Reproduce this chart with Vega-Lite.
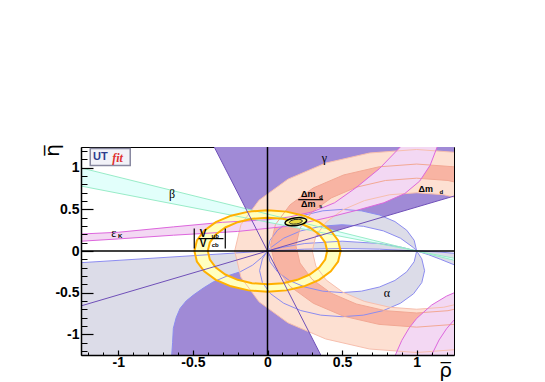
{
"$schema":"https://vega.github.io/schema/vega-lite/v6.json",
"width":373,"height":208,
"autosize":"none",
"padding":{"left":81,"top":147,"right":91,"bottom":27},
"background":"white",
"config":{"view":{"stroke":"black","strokeWidth":1}},
"datasets":{
"gamma":[{"g":1,"i":0,"x":0,"y":0},{"g":1,"i":1,"x":-0.357,"y":1.25},{"g":1,"i":2,"x":1.25,"y":1.25},{"g":1,"i":3,"x":1.25,"y":0.66},
{"g":2,"i":0,"x":0,"y":0},{"g":2,"i":1,"x":-1.25,"y":-0.66},{"g":2,"i":2,"x":-1.25,"y":-1.25},{"g":2,"i":3,"x":0.357,"y":-1.25}],
"gammaLines":[{"g":1,"i":0,"x":-0.357,"y":1.25},{"g":1,"i":1,"x":0.357,"y":-1.25},{"g":2,"i":0,"x":-1.25,"y":-0.66},{"g":2,"i":1,"x":1.25,"y":0.66}],
"alphaF1":[{"i":0,"x":0,"y":0},{"i":1,"x":-1.3,"y":-0.146},{"i":2,"x":-1.3,"y":-1.3},{"i":3,"x":-0.645,"y":-1.3},{"i":4,"x":-0.642,"y":-1.25},{"i":5,"x":-0.636,"y":-1.1},{"i":6,"x":-0.631,"y":-0.93},{"i":7,"x":-0.612,"y":-0.8},{"i":8,"x":-0.586,"y":-0.69},{"i":9,"x":-0.545,"y":-0.6},{"i":10,"x":-0.497,"y":-0.53},{"i":11,"x":-0.43,"y":-0.445},{"i":12,"x":-0.362,"y":-0.37},{"i":13,"x":-0.27,"y":-0.3},{"i":14,"x":-0.183,"y":-0.25},{"i":15,"x":-0.1,"y":-0.17},{"i":16,"x":-0.04,"y":-0.08},{"i":17,"x":0,"y":0}],
"alphaF23":[{"g":2,"i":0,"x":0,"y":0},{"g":2,"i":1,"x":-0.034,"y":-0.094},{"g":2,"i":2,"x":-0.053,"y":-0.237},{"g":2,"i":3,"x":-0.034,"y":-0.38},{"g":2,"i":4,"x":0.021,"y":-0.514},{"g":2,"i":5,"x":0.109,"y":-0.628},{"g":2,"i":6,"x":0.2235,"y":-0.716},{"g":2,"i":7,"x":0.357,"y":-0.771},{"g":2,"i":8,"x":0.5,"y":-0.79},{"g":2,"i":9,"x":0.643,"y":-0.771},{"g":2,"i":10,"x":0.7765,"y":-0.716},{"g":2,"i":11,"x":0.891,"y":-0.628},{"g":2,"i":12,"x":0.979,"y":-0.514},{"g":2,"i":13,"x":1.034,"y":-0.38},{"g":2,"i":14,"x":1.053,"y":-0.237},{"g":2,"i":15,"x":1.034,"y":-0.094},{"g":2,"i":16,"x":1,"y":0},{"g":2,"i":17,"x":0.983,"y":-0.129},{"g":2,"i":18,"x":0.933,"y":-0.25},{"g":2,"i":19,"x":0.854,"y":-0.354},{"g":2,"i":20,"x":0.75,"y":-0.433},{"g":2,"i":21,"x":0.629,"y":-0.483},{"g":2,"i":22,"x":0.5,"y":-0.5},{"g":2,"i":23,"x":0.371,"y":-0.483},{"g":2,"i":24,"x":0.25,"y":-0.433},{"g":2,"i":25,"x":0.146,"y":-0.354},{"g":2,"i":26,"x":0.067,"y":-0.25},{"g":2,"i":27,"x":0.017,"y":-0.129},{"g":2,"i":28,"x":0,"y":0},
{"g":3,"i":0,"x":0,"y":0},{"g":3,"i":1,"x":0.017,"y":0.129},{"g":3,"i":2,"x":0.067,"y":0.25},{"g":3,"i":3,"x":0.146,"y":0.354},{"g":3,"i":4,"x":0.25,"y":0.433},{"g":3,"i":5,"x":0.371,"y":0.483},{"g":3,"i":6,"x":0.5,"y":0.5},{"g":3,"i":7,"x":0.629,"y":0.483},{"g":3,"i":8,"x":0.75,"y":0.433},{"g":3,"i":9,"x":0.854,"y":0.354},{"g":3,"i":10,"x":0.933,"y":0.25},{"g":3,"i":11,"x":0.983,"y":0.129},{"g":3,"i":12,"x":1,"y":0},{"g":3,"i":13,"x":0.979,"y":0.0395},{"g":3,"i":14,"x":0.891,"y":0.154},{"g":3,"i":15,"x":0.7765,"y":0.242},{"g":3,"i":16,"x":0.643,"y":0.297},{"g":3,"i":17,"x":0.5,"y":0.316},{"g":3,"i":18,"x":0.357,"y":0.297},{"g":3,"i":19,"x":0.2235,"y":0.242},{"g":3,"i":20,"x":0.109,"y":0.154},{"g":3,"i":21,"x":0.021,"y":0.0395},{"g":3,"i":22,"x":0,"y":0},
{"g":4,"i":0,"x":1,"y":0},{"g":4,"i":1,"x":1.08,"y":-0.045},{"g":4,"i":2,"x":1.16,"y":-0.1},{"g":4,"i":3,"x":1.25,"y":-0.165},{"g":4,"i":4,"x":1.3,"y":-0.2},{"g":4,"i":5,"x":1.3,"y":-0.035},{"g":4,"i":6,"x":1.15,"y":-0.012},{"g":4,"i":7,"x":1,"y":0},
{"g":5,"i":0,"x":0,"y":0},{"g":5,"i":1,"x":0.1,"y":0.044},{"g":5,"i":2,"x":0.25,"y":0.09},{"g":5,"i":3,"x":0.5,"y":0.118},{"g":5,"i":4,"x":0.75,"y":0.09},{"g":5,"i":5,"x":0.9,"y":0.044},{"g":5,"i":6,"x":1,"y":0},{"g":5,"i":7,"x":0.75,"y":0.022},{"g":5,"i":8,"x":0.5,"y":0.03},{"g":5,"i":9,"x":0.25,"y":0.022},{"g":5,"i":10,"x":0,"y":0}],
"peach":[{"i":0,"x":1.863,"y":0.863},{"i":1,"x":1.61,"y":1.057},{"i":2,"x":1.316,"y":1.178},{"i":3,"x":1.0,"y":1.22},{"i":4,"x":0.684,"y":1.178},{"i":5,"x":0.39,"y":1.057},{"i":6,"x":0.137,"y":0.863},{"i":7,"x":-0.057,"y":0.61},{"i":8,"x":-0.178,"y":0.316},{"i":9,"x":-0.22,"y":0},{"i":10,"x":-0.178,"y":-0.316},{"i":11,"x":-0.057,"y":-0.61},{"i":12,"x":0.137,"y":-0.863},{"i":13,"x":0.39,"y":-1.057},{"i":14,"x":0.684,"y":-1.178},{"i":15,"x":1.0,"y":-1.22},{"i":16,"x":1.316,"y":-1.178},{"i":17,"x":1.61,"y":-1.057},{"i":18,"x":1.863,"y":-0.863},{"i":19,"x":1.495,"y":-0.495},{"i":20,"x":1.35,"y":-0.606},{"i":21,"x":1.181,"y":-0.676},{"i":22,"x":1.0,"y":-0.7},{"i":23,"x":0.819,"y":-0.676},{"i":24,"x":0.65,"y":-0.606},{"i":25,"x":0.505,"y":-0.495},{"i":26,"x":0.394,"y":-0.35},{"i":27,"x":0.324,"y":-0.181},{"i":28,"x":0.3,"y":0},{"i":29,"x":0.324,"y":0.181},{"i":30,"x":0.394,"y":0.35},{"i":31,"x":0.505,"y":0.495},{"i":32,"x":0.65,"y":0.606},{"i":33,"x":0.819,"y":0.676},{"i":34,"x":1.0,"y":0.7},{"i":35,"x":1.181,"y":0.676},{"i":36,"x":1.35,"y":0.606},{"i":37,"x":1.495,"y":0.495}],
"salmon":[{"i":0,"x":1.693,"y":0.758},{"i":1,"x":1.49,"y":0.9137},{"i":2,"x":1.2536,"y":1.0116},{"i":3,"x":1.0,"y":1.045},{"i":4,"x":0.7464,"y":1.0116},{"i":5,"x":0.51,"y":0.9137},{"i":6,"x":0.307,"y":0.758},{"i":7,"x":0.1513,"y":0.555},{"i":8,"x":0.0534,"y":0.3186},{"i":9,"x":0.02,"y":0.065},{"i":10,"x":0.0534,"y":-0.1886},{"i":11,"x":0.1513,"y":-0.425},{"i":12,"x":0.307,"y":-0.628},{"i":13,"x":0.51,"y":-0.7837},{"i":14,"x":0.7464,"y":-0.8816},{"i":15,"x":1.0,"y":-0.915},{"i":16,"x":1.2536,"y":-0.8816},{"i":17,"x":1.49,"y":-0.7837},{"i":18,"x":1.693,"y":-0.628},{"i":19,"x":1.5728,"y":-0.5078},{"i":20,"x":1.405,"y":-0.6365},{"i":21,"x":1.2096,"y":-0.7174},{"i":22,"x":1.0,"y":-0.745},{"i":23,"x":0.7904,"y":-0.7174},{"i":24,"x":0.595,"y":-0.6365},{"i":25,"x":0.4272,"y":-0.5078},{"i":26,"x":0.2985,"y":-0.34},{"i":27,"x":0.2176,"y":-0.1446},{"i":28,"x":0.19,"y":0.065},{"i":29,"x":0.2176,"y":0.2746},{"i":30,"x":0.2985,"y":0.47},{"i":31,"x":0.4272,"y":0.6378},{"i":32,"x":0.595,"y":0.7665},{"i":33,"x":0.7904,"y":0.8474},{"i":34,"x":1.0,"y":0.875},{"i":35,"x":1.2096,"y":0.8474},{"i":36,"x":1.405,"y":0.7665},{"i":37,"x":1.5728,"y":0.6378}],
"pinkU":[{"i":0,"x":-1.3,"y":0.2},{"i":1,"x":-1.0,"y":0.225},{"i":2,"x":-0.63,"y":0.29},{"i":3,"x":-0.3,"y":0.345},{"i":4,"x":0.0,"y":0.375},{"i":5,"x":0.15,"y":0.41},{"i":6,"x":0.3,"y":0.47},{"i":7,"x":0.45,"y":0.58},{"i":8,"x":0.6,"y":0.77},{"i":9,"x":0.75,"y":0.99},{"i":10,"x":0.89,"y":1.25},{"i":11,"x":0.92,"y":1.32},{"i":12,"x":1.16,"y":1.32},{"i":13,"x":1.137,"y":1.25},{"i":14,"x":1.09,"y":1.03},{"i":15,"x":1.02,"y":0.84},{"i":16,"x":0.92,"y":0.69},{"i":17,"x":0.78,"y":0.58},{"i":18,"x":0.6,"y":0.49},{"i":19,"x":0.4,"y":0.4},{"i":20,"x":0.15,"y":0.3},{"i":21,"x":-0.2,"y":0.235},{"i":22,"x":-0.63,"y":0.19},{"i":23,"x":-1.0,"y":0.145},{"i":24,"x":-1.3,"y":0.112}],
"pinkL":[{"i":0,"x":0.845,"y":-1.3},{"i":1,"x":0.857,"y":-1.25},{"i":2,"x":0.9,"y":-1.075},{"i":3,"x":0.95,"y":-0.924},{"i":4,"x":1.0,"y":-0.81},{"i":5,"x":1.1,"y":-0.65},{"i":6,"x":1.2,"y":-0.542},{"i":7,"x":1.3,"y":-0.465},{"i":8,"x":1.3,"y":-1.3}],
"pinkL2":[{"i":0,"x":1.09,"y":-1.3},{"i":1,"x":1.1,"y":-1.25},{"i":2,"x":1.15,"y":-1.069},{"i":3,"x":1.2,"y":-0.934},{"i":4,"x":1.25,"y":-0.83},{"i":5,"x":1.3,"y":-0.746}],
"beta":[{"i":0,"x":-1.3,"y":1.021},{"i":1,"x":1.3,"y":-0.133},{"i":2,"x":1.3,"y":-0.104},{"i":3,"x":-1.3,"y":0.798}],
"ring":[{"i":0,"x":0.49,"y":0},{"i":1,"x":0.4733,"y":0.1268},{"i":2,"x":0.4243,"y":0.245},{"i":3,"x":0.3465,"y":0.3465},{"i":4,"x":0.245,"y":0.4243},{"i":5,"x":0.1268,"y":0.4733},{"i":6,"x":0,"y":0.49},{"i":7,"x":-0.1268,"y":0.4733},{"i":8,"x":-0.245,"y":0.4243},{"i":9,"x":-0.3465,"y":0.3465},{"i":10,"x":-0.4243,"y":0.245},{"i":11,"x":-0.4733,"y":0.1268},{"i":12,"x":-0.49,"y":0},{"i":13,"x":-0.4733,"y":-0.1268},{"i":14,"x":-0.4243,"y":-0.245},{"i":15,"x":-0.3465,"y":-0.3465},{"i":16,"x":-0.245,"y":-0.4243},{"i":17,"x":-0.1268,"y":-0.4733},{"i":18,"x":0,"y":-0.49},{"i":19,"x":0.1268,"y":-0.4733},{"i":20,"x":0.245,"y":-0.4243},{"i":21,"x":0.3465,"y":-0.3465},{"i":22,"x":0.4243,"y":-0.245},{"i":23,"x":0.4733,"y":-0.1268},{"i":24,"x":0.49,"y":0},
{"i":25,"x":0.4,"y":0},{"i":26,"x":0.3864,"y":-0.1035},{"i":27,"x":0.3464,"y":-0.2},{"i":28,"x":0.2828,"y":-0.2828},{"i":29,"x":0.2,"y":-0.3464},{"i":30,"x":0.1035,"y":-0.3864},{"i":31,"x":0,"y":-0.4},{"i":32,"x":-0.1035,"y":-0.3864},{"i":33,"x":-0.2,"y":-0.3464},{"i":34,"x":-0.2828,"y":-0.2828},{"i":35,"x":-0.3464,"y":-0.2},{"i":36,"x":-0.3864,"y":-0.1035},{"i":37,"x":-0.4,"y":0},{"i":38,"x":-0.3864,"y":0.1035},{"i":39,"x":-0.3464,"y":0.2},{"i":40,"x":-0.2828,"y":0.2828},{"i":41,"x":-0.2,"y":0.3464},{"i":42,"x":-0.1035,"y":0.3864},{"i":43,"x":0,"y":0.4},{"i":44,"x":0.1035,"y":0.3864},{"i":45,"x":0.2,"y":0.3464},{"i":46,"x":0.2828,"y":0.2828},{"i":47,"x":0.3464,"y":0.2},{"i":48,"x":0.3864,"y":0.1035},{"i":49,"x":0.4,"y":0}],
"ell1":[{"i":0,"x":0.262,"y":0.372},{"i":1,"x":0.2484,"y":0.3918},{"i":2,"x":0.2191,"y":0.401},{"i":3,"x":0.182,"y":0.397},{"i":4,"x":0.1471,"y":0.381},{"i":5,"x":0.1236,"y":0.3572},{"i":6,"x":0.118,"y":0.332},{"i":7,"x":0.1316,"y":0.3122},{"i":8,"x":0.1609,"y":0.303},{"i":9,"x":0.198,"y":0.307},{"i":10,"x":0.2329,"y":0.323},{"i":11,"x":0.2564,"y":0.3468}],
"ell2":[{"i":0,"x":0.233,"y":0.364},{"i":1,"x":0.2247,"y":0.3759},{"i":2,"x":0.2072,"y":0.3814},{"i":3,"x":0.185,"y":0.379},{"i":4,"x":0.1642,"y":0.3694},{"i":5,"x":0.1503,"y":0.3551},{"i":6,"x":0.147,"y":0.34},{"i":7,"x":0.1553,"y":0.3281},{"i":8,"x":0.1728,"y":0.3226},{"i":9,"x":0.195,"y":0.325},{"i":10,"x":0.2158,"y":0.3346},{"i":11,"x":0.2297,"y":0.3489}],
"axes":[{"x":-1.25,"y":0,"x2":1.25,"y2":0},{"x":0,"y":-1.25,"x2":0,"y2":1.25}],
"bars":[{"x":-0.491,"y":0.029,"x2":-0.491,"y2":0.269},{"x":-0.283,"y":0.029,"x2":-0.283,"y2":0.269},{"x":-0.462,"y":0.149,"x2":-0.295,"y2":0.149},{"x":0.206,"y":0.617,"x2":0.373,"y2":0.617}],
"logo":[{"x":-1.188,"y":1.233,"x2":-0.92,"y2":1.029}],
"greek":[{"x":0.381,"y":1.12,"t":"γ"},{"x":-0.64,"y":0.685,"t":"β"},{"x":0.8,"y":-0.5,"t":"α"},{"x":-1.03,"y":0.212,"t":"ε"}],
"big":[{"x":1.06,"y":0.747,"t":"Δm"},{"x":0.273,"y":0.687,"t":"Δm"},{"x":0.273,"y":0.57,"t":"Δm"}],
"vv":[{"x":-0.431,"y":0.209,"t":"V"},{"x":-0.431,"y":0.089,"t":"V"}],
"subs":[{"x":1.165,"y":0.705,"t":"d"},{"x":0.357,"y":0.655,"t":"d"},{"x":0.357,"y":0.54,"t":"s"},{"x":-0.35,"y":0.18,"t":"ub"},{"x":-0.35,"y":0.075,"t":"cb"},{"x":-0.987,"y":0.176,"t":"K"}],
"ut":[{"x":-1.12,"y":1.13,"t":"UT"}],
"fit":[{"x":-1.005,"y":1.12,"t":"fit"}]
},
"encoding":{
"x":{"field":"x","type":"quantitative","scale":{"domain":[-1.25,1.25],"nice":false,"zero":false},"axis":null},
"y":{"field":"y","type":"quantitative","scale":{"domain":[-1.25,1.25],"nice":false,"zero":false},"axis":null}
},
"resolve":{"axis":{"x":"independent","y":"independent"}},
"layer":[
{"data":{"name":"gamma"},"mark":{"type":"line","fill":"#a08ad6","strokeWidth":0,"clip":true},"encoding":{"detail":{"field":"g"},"order":{"field":"i"}}},
{"data":{"name":"alphaF1"},"mark":{"type":"line","fill":"#dcdce8","strokeWidth":0,"clip":true},"encoding":{"order":{"field":"i"}}},
{"data":{"name":"alphaF23"},"mark":{"type":"line","fill":"#dcdce8","strokeWidth":0,"clip":true},"encoding":{"detail":{"field":"g"},"order":{"field":"i"}}},
{"data":{"name":"peach"},"mark":{"type":"line","fill":"#fde0d2","strokeWidth":0,"clip":true},"encoding":{"order":{"field":"i"}}},
{"data":{"name":"salmon"},"mark":{"type":"line","fill":"#f8b4a3","strokeWidth":0,"clip":true},"encoding":{"order":{"field":"i"}}},
{"data":{"name":"pinkU"},"mark":{"type":"line","fill":"#f3d8f3","strokeWidth":0,"clip":true},"encoding":{"order":{"field":"i"}}},
{"data":{"name":"pinkL"},"mark":{"type":"line","fill":"#f3d8f3","strokeWidth":0,"clip":true},"encoding":{"order":{"field":"i"}}},
{"data":{"name":"beta"},"mark":{"type":"line","fill":"#e2fffb","strokeWidth":0,"clip":true},"encoding":{"order":{"field":"i"}}},
{"data":{"name":"ring"},"mark":{"type":"line","fill":"#ffffc0","strokeWidth":0,"clip":true},"encoding":{"order":{"field":"i"}}},
{"data":{"name":"alphaF1"},"mark":{"type":"line","stroke":"#8c8cf0","strokeWidth":1,"clip":true},"encoding":{"order":{"field":"i"}}},
{"data":{"name":"alphaF23"},"mark":{"type":"line","stroke":"#8c8cf0","strokeWidth":1,"clip":true},"encoding":{"detail":{"field":"g"},"order":{"field":"i"}}},
{"data":{"name":"peach"},"mark":{"type":"line","stroke":"#f7bfae","strokeWidth":1,"clip":true},"encoding":{"order":{"field":"i"}}},
{"data":{"name":"salmon"},"mark":{"type":"line","stroke":"#f2a894","strokeWidth":1,"clip":true},"encoding":{"order":{"field":"i"}}},
{"data":{"name":"pinkU"},"mark":{"type":"line","stroke":"#dd66dd","strokeWidth":1,"clip":true},"encoding":{"order":{"field":"i"}}},
{"data":{"name":"pinkL"},"mark":{"type":"line","stroke":"#dd66dd","strokeWidth":1,"clip":true},"encoding":{"order":{"field":"i"}}},
{"data":{"name":"pinkL2"},"mark":{"type":"line","stroke":"#dd66dd","strokeWidth":1,"clip":true},"encoding":{"order":{"field":"i"}}},
{"data":{"name":"beta"},"mark":{"type":"line","stroke":"#98ecc8","strokeWidth":1,"clip":true},"encoding":{"order":{"field":"i"}}},
{"data":{"name":"ring"},"mark":{"type":"line","stroke":"#ffb000","strokeWidth":2,"clip":true},"encoding":{"order":{"field":"i"}}},
{"data":{"name":"gammaLines"},"mark":{"type":"line","stroke":"#6f4fb8","strokeWidth":1,"clip":true},
 "encoding":{"detail":{"field":"g"},"order":{"field":"i"},
 "x":{"field":"x","type":"quantitative","scale":{"domain":[-1.25,1.25],"nice":false,"zero":false},
  "axis":{"orient":"bottom","values":[-1.2,-1.1,-0.9,-0.8,-0.7,-0.6,-0.4,-0.3,-0.2,-0.1,0.1,0.2,0.3,0.4,0.6,0.7,0.8,0.9,1.1,1.2],"labels":false,"tickSize":-3,"tickWidth":1,"tickColor":"black","domain":false,"grid":false,"title":null,"zindex":1}},
 "y":{"field":"y","type":"quantitative","scale":{"domain":[-1.25,1.25],"nice":false,"zero":false},
  "axis":{"orient":"left","values":[-1.2,-1.1,-0.9,-0.8,-0.7,-0.6,-0.4,-0.3,-0.2,-0.1,0.1,0.2,0.3,0.4,0.6,0.7,0.8,0.9,1.1,1.2],"labels":false,"tickSize":-6,"tickWidth":1,"tickColor":"black","domain":false,"grid":false,"title":null,"zindex":1}}}},
{"data":{"name":"axes"},"mark":{"type":"rule","stroke":"black","strokeWidth":1.5,"clip":true},
 "encoding":{"x2":{"field":"x2"},"y2":{"field":"y2"},
 "x":{"field":"x","type":"quantitative","scale":{"domain":[-1.25,1.25],"nice":false,"zero":false},
  "axis":{"orient":"bottom","values":[-1,-0.5,0,0.5,1],"labelExpr":"'' + datum.value","tickSize":-5,"tickWidth":1.2,"tickColor":"black","domainColor":"black","domainWidth":1.5,"grid":false,"labelFont":"Liberation Sans","labelFontWeight":"bold","labelFontSize":14,"labelColor":"black","labelPadding":5,"title":"ρ\u0305","titleFont":"DejaVu Sans","titleFontSize":20,"titleFontWeight":"normal","titleColor":"black","titleX":364,"titleY":21,"titleAlign":"center","titleBaseline":"alphabetic","zindex":1}},
 "y":{"field":"y","type":"quantitative","scale":{"domain":[-1.25,1.25],"nice":false,"zero":false},
  "axis":{"orient":"left","values":[-1,-0.5,0,0.5,1],"labelExpr":"'' + datum.value","tickSize":-12,"tickWidth":1.2,"tickColor":"black","domainColor":"black","domainWidth":1.5,"grid":false,"labelFont":"Liberation Sans","labelFontWeight":"bold","labelFontSize":14,"labelColor":"black","labelPadding":14,"title":"η\u0305","titleFont":"DejaVu Sans","titleFontSize":20,"titleFontWeight":"normal","titleColor":"black","titleAngle":-90,"titleX":-23,"titleY":3,"titleAlign":"center","titleBaseline":"alphabetic","zindex":1}}}},
{"data":{"name":"ell1"},"mark":{"type":"line","interpolate":"cardinal-closed","fill":"#ffff88","stroke":"black","strokeWidth":1.5,"clip":true},"encoding":{"order":{"field":"i"}}},
{"data":{"name":"ell2"},"mark":{"type":"line","interpolate":"cardinal-closed","fill":"#e8d840","stroke":"#222222","strokeWidth":1,"clip":true},"encoding":{"order":{"field":"i"}}},
{"data":{"name":"bars"},"mark":{"type":"rule","stroke":"black","strokeWidth":1.2},"encoding":{"x2":{"field":"x2"},"y2":{"field":"y2"}}},
{"data":{"name":"logo"},"mark":{"type":"rect","fill":"#f2f2f8","stroke":"#8888a0","strokeWidth":1.5},"encoding":{"x2":{"field":"x2"},"y2":{"field":"y2"}}},
{"data":{"name":"greek"},"mark":{"type":"text","font":"Liberation Serif","fontSize":12,"align":"center","baseline":"middle","color":"black"},"encoding":{"text":{"field":"t"}}},
{"data":{"name":"big"},"mark":{"type":"text","font":"Liberation Sans","fontWeight":"bold","fontSize":9,"align":"center","baseline":"middle","color":"black"},"encoding":{"text":{"field":"t"}}},
{"data":{"name":"vv"},"mark":{"type":"text","font":"Liberation Sans","fontWeight":"bold","fontSize":10,"align":"center","baseline":"middle","color":"black"},"encoding":{"text":{"field":"t"}}},
{"data":{"name":"subs"},"mark":{"type":"text","font":"Liberation Sans","fontWeight":"bold","fontSize":6,"align":"center","baseline":"middle","color":"black"},"encoding":{"text":{"field":"t"}}},
{"data":{"name":"ut"},"mark":{"type":"text","font":"Liberation Sans","fontWeight":"bold","fontSize":11,"align":"center","baseline":"middle","color":"#2d3c8c"},"encoding":{"text":{"field":"t"}}},
{"data":{"name":"fit"},"mark":{"type":"text","font":"Liberation Serif","fontWeight":"bold","fontStyle":"italic","fontSize":12,"align":"center","baseline":"middle","color":"#e03030"},"encoding":{"text":{"field":"t"}}}
]
}
